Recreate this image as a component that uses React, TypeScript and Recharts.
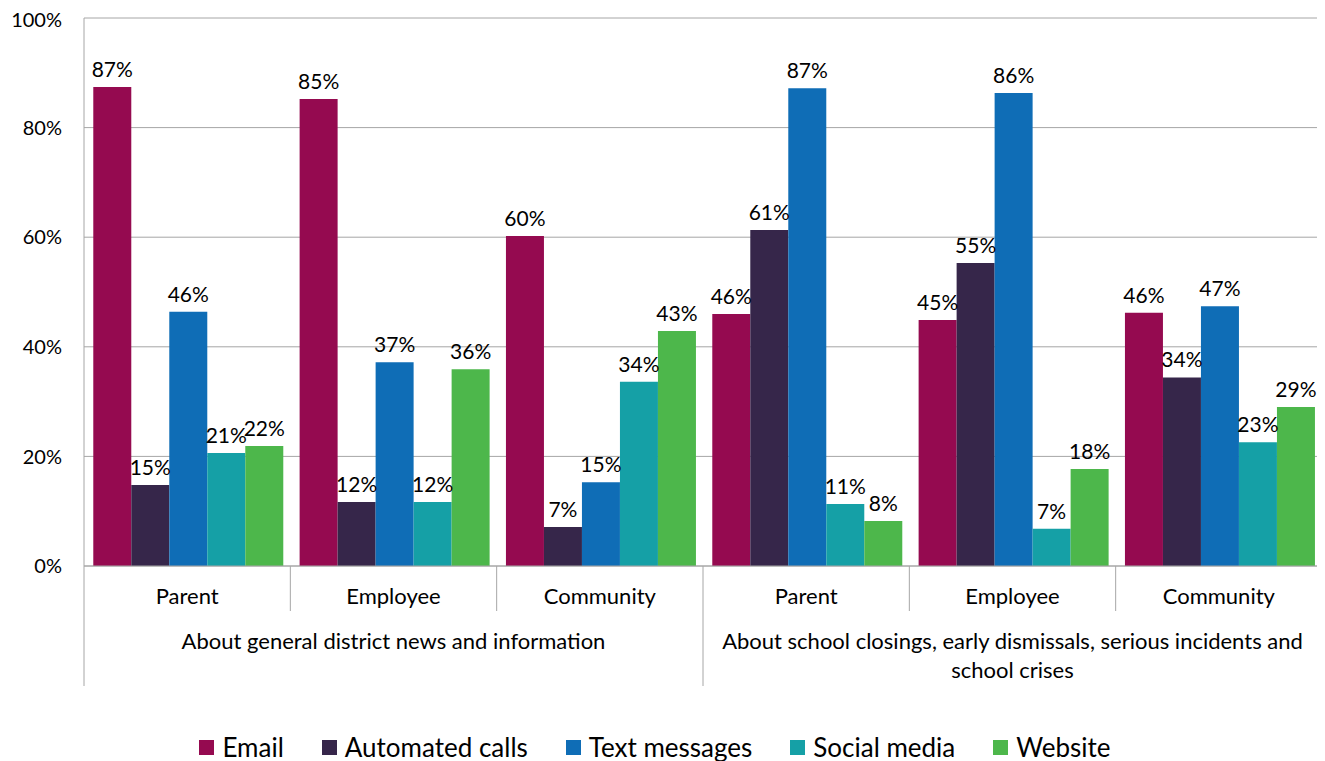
import React from "react";
import {
  BarChart,
  Bar,
  XAxis,
  YAxis,
  CartesianGrid,
  Legend,
  LabelList,
} from "recharts";

// tier 1 / tier 2 category labels
const audiences = ["Parent", "Employee", "Community", "Parent", "Employee", "Community"];
const topics = [
  "About general district news and information",
  "About school closings, early dismissals, serious incidents and school crises",
];

// percent of respondents per channel
const email = [87.4, 85.2, 60.2, 46.0, 44.9, 46.2];
const automatedCalls = [14.8, 11.7, 7.1, 61.3, 55.3, 34.4];
const textMessages = [46.4, 37.2, 15.3, 87.2, 86.3, 47.4];
const socialMedia = [20.6, 11.7, 33.6, 11.3, 6.8, 22.6];
const website = [21.9, 35.9, 42.9, 8.2, 17.7, 29.0];

const yTicks = [0, 20, 40, 60, 80, 100];

const series = [
  { key: "email", name: "Email", color: "#950A50", values: email },
  { key: "calls", name: "Automated calls", color: "#36264A", values: automatedCalls },
  { key: "text", name: "Text messages", color: "#0F6DB6", values: textMessages },
  { key: "social", name: "Social media", color: "#15A0A6", values: socialMedia },
  { key: "website", name: "Website", color: "#4DB74B", values: website },
];

const data = audiences.map((name, i) => {
  const row: any = { name, id: i };
  series.forEach((s) => {
    row[s.key] = s.values[i];
  });
  return row;
});

const FONT = "Lato, 'Open Sans', sans-serif";
const W = 1317;
const H = 753;
const MARGIN = { top: 10, right: 3, left: 0, bottom: 0 };
const Y_W = 76;
const PER_GROUP = 3;
const LINE = "#A6A6A6";

const plotW = W - MARGIN.left - MARGIN.right - Y_W;
const band = plotW / audiences.length;

// simple word wrap using canvas text measurement
let ctx: CanvasRenderingContext2D | null = null;
const wrap = (str: string, maxW: number, font: string) => {
  if (!ctx) ctx = document.createElement("canvas").getContext("2d");
  if (!ctx) return [str];
  ctx.font = font;
  const lines: string[] = [];
  let cur = "";
  str.split(" ").forEach((w) => {
    const next = cur ? cur + " " + w : w;
    if (cur && ctx!.measureText(next).width > maxW) {
      lines.push(cur);
      cur = w;
    } else {
      cur = next;
    }
  });
  if (cur) lines.push(cur);
  return lines;
};

const CategoryTick = (props: any) => {
  const { x, y, payload } = props;
  const i = payload.index ?? props.index ?? 0;
  const left = x - band / 2;
  const right = x + band / 2;
  const startOfGroup = i % PER_GROUP === 0;
  const isLast = i === audiences.length - 1;
  const mid = i % PER_GROUP === Math.floor(PER_GROUP / 2);
  const labelStyle = { fontSize: 22, fontFamily: FONT };
  const lines = mid
    ? wrap(topics[Math.floor(i / PER_GROUP)], band * PER_GROUP - 16, `22px ${FONT}`)
    : [];
  return (
    <g>
      <line x1={left} x2={left} y1={y} y2={y + (startOfGroup ? 120 : 45)} stroke={LINE} />
      {isLast && <line x1={right} x2={right} y1={y} y2={y + 120} stroke={LINE} />}
      <text x={x} y={y + 38} textAnchor="middle" fill="#000" style={labelStyle}>
        {audiences[i]}
      </text>
      {lines.map((ln, k) => (
        <text key={k} x={x} y={y + 83 + k * 29} textAnchor="middle" fill="#000" style={labelStyle}>
          {ln}
        </text>
      ))}
    </g>
  );
};

const LegendContent = () => (
  <div
    style={{
      height: 40,
      paddingTop: 12,
      boxSizing: "border-box",
      display: "flex",
      justifyContent: "center",
      gap: 38,
      fontFamily: FONT,
      fontSize: 26,
      lineHeight: "28px",
      color: "#000",
      paddingRight: 20,
    }}
  >
    {series.map((s) => (
      <div key={s.key} style={{ display: "flex", alignItems: "center" }}>
        <span style={{ width: 15, height: 15, background: s.color, marginRight: 8, display: "inline-block" }} />
        {s.name}
      </div>
    ))}
  </div>
);

const App = () => {
  return (
    <div style={{ width: W, height: H }}>
      <BarChart
        width={W}
        height={H}
        data={data}
        margin={MARGIN}
        barCategoryGap="4.5%"
        barGap={0}
      >
        <CartesianGrid vertical={false} stroke={LINE} />
        <XAxis
          dataKey="id"
          height={155}
          interval={0}
          tickLine={false}
          tickSize={0}
          tickMargin={0}
          axisLine={{ stroke: LINE }}
          tick={<CategoryTick />}
        />
        <YAxis
          width={Y_W}
          domain={[0, 100]}
          ticks={yTicks}
          tickFormatter={(v: number) => `${v}%`}
          tickLine={false}
          tickSize={0}
          tickMargin={22}
          axisLine={{ stroke: LINE }}
          tick={{ fill: "#000", fontSize: 20, fontFamily: FONT }}
        />
        <Legend verticalAlign="bottom" content={<LegendContent />} />
        {series.map((s) => (
          <Bar key={s.key} dataKey={s.key} name={s.name} fill={s.color} isAnimationActive={false}>
            <LabelList
              dataKey={s.key}
              position="top"
              offset={10}
              formatter={(v: any) => `${Math.round(Number(v))}%`}
              style={{ fill: "#000", fontSize: 21, fontFamily: FONT }}
            />
          </Bar>
        ))}
      </BarChart>
    </div>
  );
};

export default App;
